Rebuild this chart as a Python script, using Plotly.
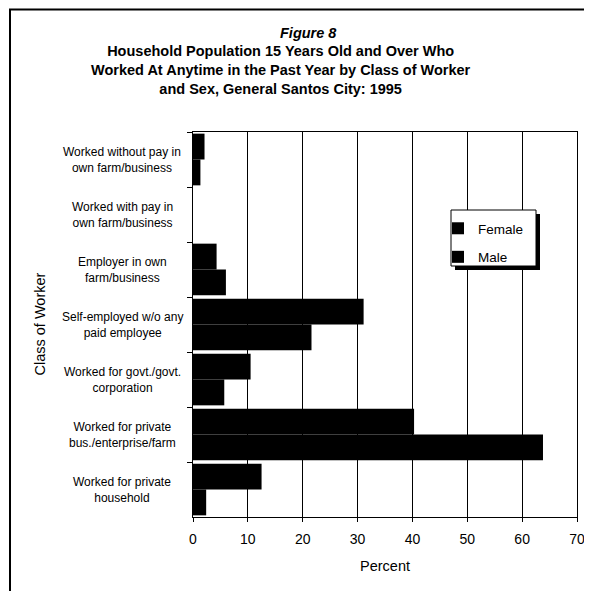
import plotly.graph_objects as go

categories = [
    "Worked without pay in<br>own farm/business",
    "Worked with pay in<br>own farm/business",
    "Employer in own<br>farm/business",
    "Self-employed w/o any<br>paid employee",
    "Worked for govt./govt.<br>corporation",
    "Worked for private<br>bus./enterprise/farm",
    "Worked for private<br>household",
]
female = [2.1, 0.0, 4.3, 31.1, 10.5, 40.3, 12.5]
male = [1.35, 0.0, 6.0, 21.6, 5.7, 63.8, 2.4]
x_ticks = [0, 10, 20, 30, 40, 50, 60, 70]

FONT = "Arial, Liberation Sans, sans-serif"

# screen pixel helpers (plot area on screen: x 193..577, y 132..517)
OFF = 8  # page body margin
L, R, T, B = 193.0, 577.0, 132.0, 517.0
def px(x):
    return (x - L) / (R - L)
def py(y):
    return (B - y) / (B - T)

fig = go.Figure()
fig.add_trace(go.Bar(y=categories, x=female, name="Female", orientation="h",
                     marker=dict(color="black", line=dict(width=0)), legendgroup="f"))
fig.add_trace(go.Bar(y=categories, x=male, name="Male", orientation="h",
                     marker=dict(color="black", line=dict(width=0)), legendgroup="m"))

fig.update_layout(
    width=592, height=591,
    margin=dict(l=L - OFF, r=592 - (R - OFF), t=T - OFF, b=591 - (B - OFF)),
    paper_bgcolor="white", plot_bgcolor="white",
    font=dict(family=FONT, color="black"),
    barmode="group", bargap=0.06, bargroupgap=0,
    showlegend=True,
    legend=dict(x=px(438), y=py(213), xanchor="left", yanchor="top",
                bgcolor="rgba(0,0,0,0)", borderwidth=0,
                font=dict(size=13.5, family=FONT), traceorder="grouped",
                tracegroupgap=8),
)

fig.update_xaxes(range=[0, 70], tickvals=x_ticks, ticktext=[str(v) for v in x_ticks],
                 showgrid=True, gridcolor="black", gridwidth=1,
                 showline=True, linecolor="black", linewidth=1, mirror=True,
                 ticks="outside", ticklen=4, tickcolor="black", ticklabelstandoff=5,
                 tickfont=dict(size=14, family=FONT), zeroline=False,
                 title=dict(text="Percent", font=dict(size=14.5, family=FONT), standoff=15))
fig.update_yaxes(type="category", autorange="reversed", categoryorder="array",
                 categoryarray=categories, showticklabels=False,
                 tickson="boundaries", ticks="outside", ticklen=5, tickcolor="black",
                 showline=True, linecolor="black", linewidth=1, mirror=True,
                 showgrid=False)

anns = []
for c in categories:
    anns.append(dict(x=px(122), y=c, xref="paper", yref="y", text=c, showarrow=False,
                     xanchor="center", yanchor="middle", align="center",
                     font=dict(size=12, family=FONT)))
anns.append(dict(x=px(39), y=0.5, xref="paper", yref="paper", text="Class of Worker",
                 textangle=-90, showarrow=False, xanchor="center", yanchor="middle",
                 font=dict(size=14.5, family=FONT)))
anns.append(dict(x=px(308), y=py(33), xref="paper", yref="paper", text="<b><i>Figure 8</i></b>",
                 showarrow=False, xanchor="center", yanchor="middle",
                 font=dict(size=14.5, family=FONT)))
anns.append(dict(x=px(281), y=py(70), xref="paper", yref="paper",
                 text="<b>Household Population 15 Years Old and Over Who<br>"
                      "Worked At Anytime in the Past Year by Class of Worker<br>"
                      "and Sex, General Santos City: 1995</b>",
                 showarrow=False, xanchor="center", yanchor="middle", align="center",
                 font=dict(size=14.5, family=FONT)))
fig.update_layout(annotations=anns)

shapes = [
    # outer frame (top and left edges visible)
    dict(type="line", xref="paper", yref="paper", x0=px(9), x1=px(600), y0=py(9.5), y1=py(9.5),
         line=dict(color="black", width=2), layer="above"),
    dict(type="line", xref="paper", yref="paper", x0=px(10), x1=px(10), y0=py(9), y1=py(600),
         line=dict(color="black", width=2), layer="above"),
    # legend shadow and box
    dict(type="rect", xref="paper", yref="paper", x0=px(455), x1=px(540), y0=py(270), y1=py(214),
         line=dict(color="black", width=0), fillcolor="black", layer="above"),
    dict(type="rect", xref="paper", yref="paper", x0=px(451), x1=px(536), y0=py(266), y1=py(210),
         line=dict(color="black", width=1), fillcolor="white", layer="above"),
]
fig.update_layout(shapes=shapes)

fig.write_html("out.html")
